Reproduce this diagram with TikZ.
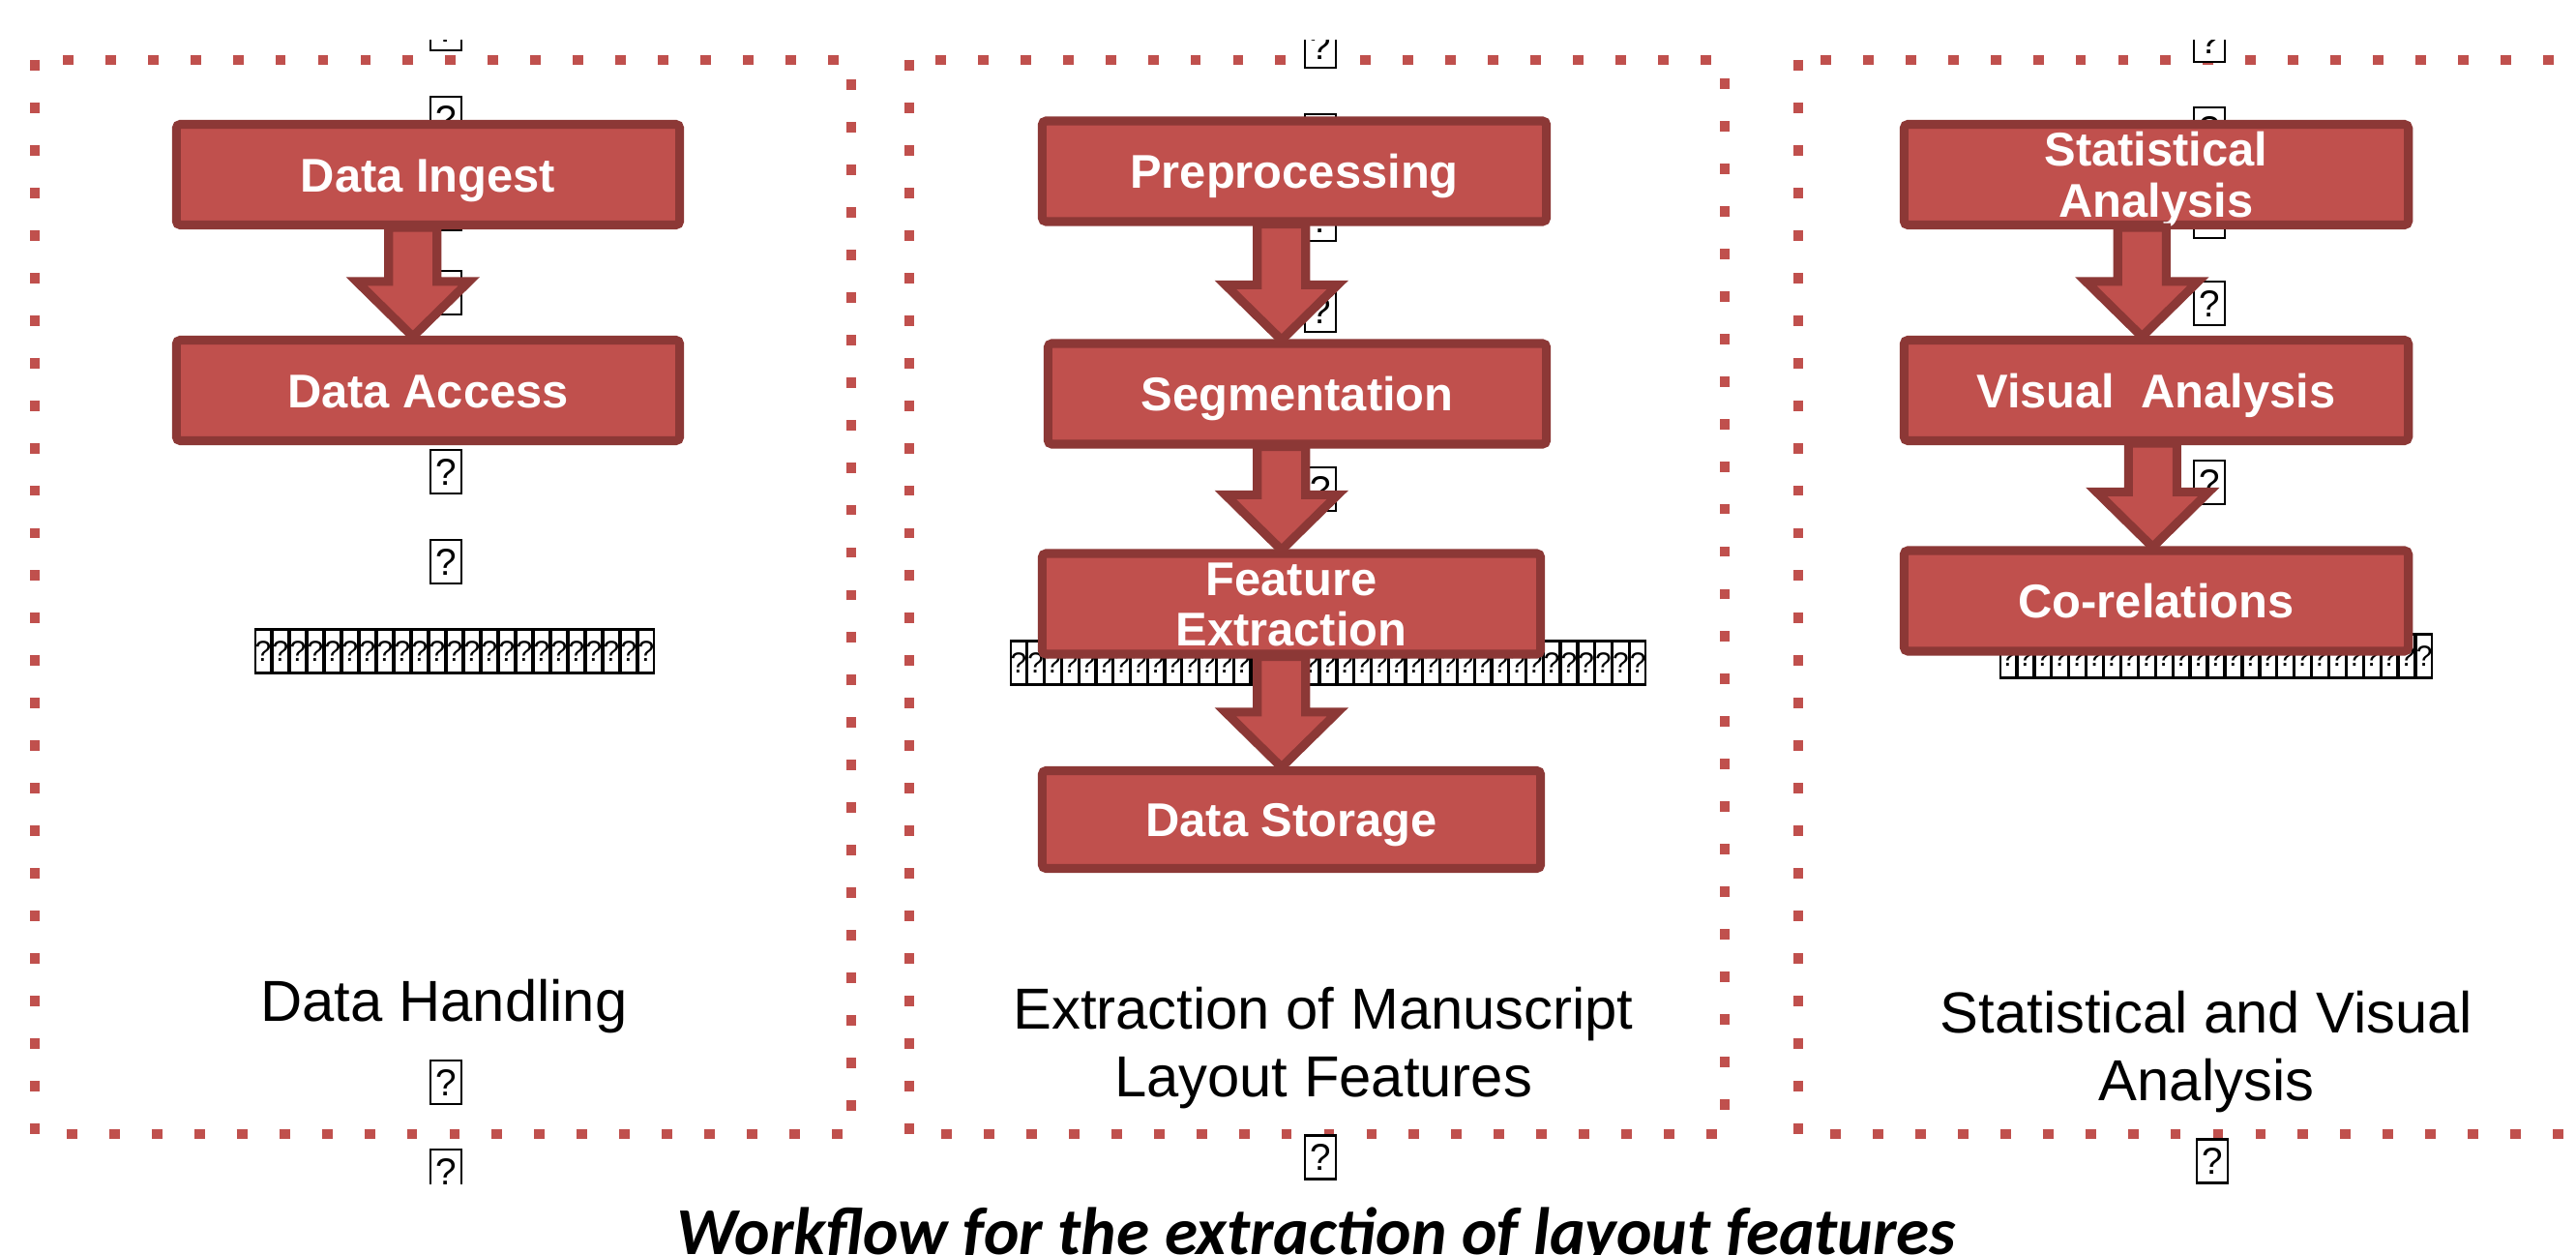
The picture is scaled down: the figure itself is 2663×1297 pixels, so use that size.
\documentclass[tikz,border=0pt]{standalone}
\usepackage{fontspec}
\setmainfont{Liberation Sans}
\newfontfamily\capfont{Carlito}
\usetikzlibrary{calc}
\definecolor{accred}{HTML}{C0504D}
\definecolor{darkred}{HTML}{8C3836}
\newcommand\blockarrow[3]{%
  \draw[blockarr] let \p1=(#1.south), \p2=(#2.north) in
    ({(#3-25)*0.28453pt},{\y1+2*0.28453pt}) --
    ({(#3-25)*0.28453pt},{\y2+56*0.28453pt}) --
    ({(#3-58)*0.28453pt},{\y2+56*0.28453pt}) --
    ({#3*0.28453pt},{\y2-1*0.28453pt}) --
    ({(#3+58)*0.28453pt},{\y2+56*0.28453pt}) --
    ({(#3+25)*0.28453pt},{\y2+56*0.28453pt}) --
    ({(#3+25)*0.28453pt},{\y1+2*0.28453pt}) -- cycle;}
\newcommand\qbar[5]{% name, x0, x1, yc, n
  \pgfmathsetmacro\cellw{(#3-#2)/#5}
  \foreach \i in {1,...,#5}
    \node[qcell] (#1-\i) at ({#2+\cellw*(\i-0.5)},#4) {?};}
\begin{document}
\begin{tikzpicture}[x=0.01cm, y=-0.01cm,
  frame/.style={draw=accred, line width=2.85pt, dash pattern=on 3.1pt off 9.4pt},
  stepbox/.style={draw=darkred, fill=accred, line width=2.6pt, rounded corners=1.2pt,
    minimum height=1.04cm, inner sep=0pt, align=center, text=white,
    font=\fontsize{13.9}{14.9}\selectfont\bfseries, text height=10pt, text depth=0pt},
  twoline/.style={text height=24.9pt, text depth=0pt},
  blockarr/.style={draw=darkred, fill=accred, line width=2.6pt},
  qbox/.style={draw, fill=white, line width=0.6pt, minimum width=9.1pt, minimum height=12.8pt,
    inner sep=0pt, font=\fontsize{11}{11}\selectfont},
  qcell/.style={draw, fill=white, line width=0.6pt, minimum width=4.6pt, minimum height=12.8pt,
    inner sep=0pt, font=\fontsize{8.5}{8.5}\selectfont},
  seclabel/.style={align=center, inner sep=0pt, font=\fontsize{17}{19.8}\selectfont,
    text height=12.2pt, text depth=0pt, anchor=north},
  seclabeltwo/.style={seclabel, text height=32pt},
]
\useasboundingbox (0,0) rectangle (2663,1297);
\clip (0,0) rectangle (2663,1297);
\fill[white] (0,0) rectangle (2663,1297);

% dotted frames
\draw[frame] (36,62) rectangle (880,1172);
\draw[frame] (940,62) rectangle (1783,1172);
\draw[frame] (1859,62) rectangle (2700,1172);

% missing-glyph boxes
\begin{scope}
\clip (0,42) rectangle (2663,1223);
\foreach \y [count=\k] in {29.5,122.5,215.5,302.5,394.5,487.5,580.5,1118.5,1210.5}
  \node[qbox] (qa\k) at (461,\y) {?};
\foreach \y [count=\k] in {47.5,140.5,226.5,320.5,412.5,505.5,597.5,1196}
  \node[qbox] (qb\k) at (1365,\y) {?};
\foreach \y [count=\k] in {41.5,133.5,223.5,313.5,406.5,498.5,591.5}
  \node[qbox] (qc\k) at (2284,\y) {?};
\node[qbox] (qc8) at (2287,1200) {?};
\qbar{bara}{263}{677}{673}{23}
\qbar{barb}{1044}{1702}{685}{37}
\qbar{barc}{2067}{2515}{678}{25}
\end{scope}

% column 1
\node[stepbox, minimum width=5.20cm] (ingest) at (442.5,180.5) {Data Ingest};
\node[stepbox, minimum width=5.20cm] (access) at (442.5,403.5) {Data Access};
\blockarrow{ingest}{access}{426.5}

% column 2
\node[stepbox, minimum width=5.21cm] (prep) at (1338,177) {Preprocessing};
\node[stepbox, minimum width=5.15cm] (seg) at (1341,407) {Segmentation};
\node[stepbox, twoline, minimum width=5.15cm] (feat) at (1335,624) {Feature\\Extraction};
\node[stepbox, minimum width=5.15cm, minimum height=1.01cm] (store) at (1335,847) {Data Storage};
\blockarrow{prep}{seg}{1324}
\blockarrow{seg}{feat}{1324}
\blockarrow{feat}{store}{1324}

% column 3
\node[stepbox, twoline, minimum width=5.21cm] (stat) at (2229,180.5) {Statistical\\Analysis};
\node[stepbox, minimum width=5.21cm] (vis) at (2229,403.5) {Visual\ \ Analysis};
\node[stepbox, minimum width=5.21cm] (corr) at (2229,621) {Co-relations};
\blockarrow{stat}{vis}{2213}
\blockarrow{vis}{corr}{2224}

% section labels
\node[seclabel] (lab1) at (459,1012) {Data Handling};
\node[seclabeltwo] (lab2) at (1368,1020) {Extraction of Manuscript\\Layout Features};
\node[seclabeltwo] (lab3) at (2281,1024) {Statistical and Visual\\Analysis};

% caption
\node[anchor=base, inner sep=0pt, font=\capfont\bfseries\itshape\fontsize{19.7}{22}\selectfont] (cap) at (1361,1296) {Workflow for the extraction of layout features};
\end{tikzpicture}
\end{document}
